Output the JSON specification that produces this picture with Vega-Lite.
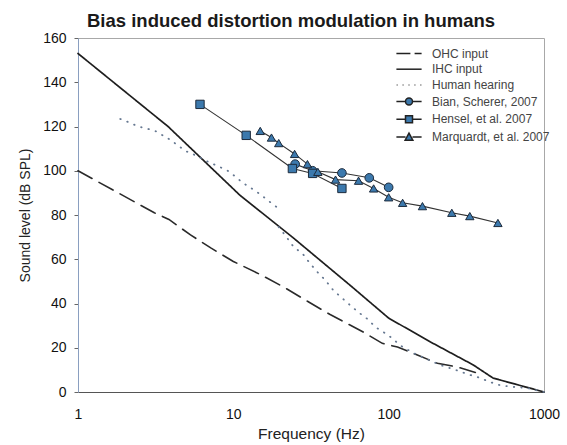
{
  "$schema": "https://vega.github.io/schema/vega-lite/v6.json",
  "width": 466,
  "height": 354,
  "autosize": {"type": "none"},
  "padding": {"left": 78, "top": 38, "right": 23, "bottom": 53},
  "background": "white",
  "config": {
    "font": "Liberation Sans",
    "view": {"stroke": "#a8a8a8", "strokeWidth": 1},
    "axis": {"grid": false, "labelFont": "Liberation Sans", "titleFont": "Liberation Sans", "labelColor": "#111", "titleColor": "#222", "titleFontWeight": "normal"}
  },
  "title": {
    "text": "Bias induced distortion modulation in humans",
    "fontSize": 18.5,
    "fontWeight": "bold",
    "color": "#1a1a1a",
    "font": "Liberation Sans",
    "anchor": "middle",
    "dx": -20,
    "offset": 1
  },
  "datasets": {
    "curves": [
      {"series": "OHC input", "part": "a", "f": 1, "db": 100},
      {"series": "OHC input", "part": "a", "f": 3.1, "db": 81},
      {"series": "OHC input", "part": "a", "f": 3.85, "db": 78},
      {"series": "OHC input", "part": "a", "f": 5.3, "db": 71},
      {"series": "OHC input", "part": "a", "f": 7.2, "db": 65},
      {"series": "OHC input", "part": "a", "f": 10, "db": 59},
      {"series": "OHC input", "part": "a", "f": 15, "db": 53},
      {"series": "OHC input", "part": "a", "f": 21, "db": 47.5},
      {"series": "OHC input", "part": "a", "f": 30, "db": 41},
      {"series": "OHC input", "part": "a", "f": 42, "db": 35},
      {"series": "OHC input", "part": "a", "f": 69, "db": 27},
      {"series": "OHC input", "part": "a", "f": 91, "db": 22},
      {"series": "OHC input", "part": "a", "f": 114, "db": 20.3},
      {"series": "OHC input", "part": "a", "f": 153, "db": 16.7},
      {"series": "OHC input", "part": "a", "f": 206, "db": 13},
      {"series": "OHC input", "part": "a", "f": 277, "db": 11.3},
      {"series": "OHC input", "part": "a", "f": 372, "db": 8.6},
      {"series": "IHC input", "part": "a", "f": 1, "db": 153},
      {"series": "IHC input", "part": "a", "f": 3.8, "db": 120},
      {"series": "IHC input", "part": "a", "f": 11, "db": 89},
      {"series": "IHC input", "part": "a", "f": 24, "db": 70},
      {"series": "IHC input", "part": "a", "f": 57, "db": 48},
      {"series": "IHC input", "part": "a", "f": 100, "db": 33.4},
      {"series": "IHC input", "part": "a", "f": 186, "db": 22.6},
      {"series": "IHC input", "part": "a", "f": 351, "db": 12.2},
      {"series": "IHC input", "part": "a", "f": 470, "db": 6.3},
      {"series": "IHC input", "part": "a", "f": 1000, "db": 0},
      {"series": "Human hearing", "part": "a", "f": 1.87, "db": 123.4},
      {"series": "Human hearing", "part": "a", "f": 2.16, "db": 121.7},
      {"series": "Human hearing", "part": "a", "f": 2.44, "db": 120},
      {"series": "Human hearing", "part": "a", "f": 2.79, "db": 119},
      {"series": "Human hearing", "part": "a", "f": 3.14, "db": 118},
      {"series": "Human hearing", "part": "a", "f": 3.93, "db": 114},
      {"series": "Human hearing", "part": "a", "f": 4.36, "db": 111.6},
      {"series": "Human hearing", "part": "a", "f": 4.9, "db": 109},
      {"series": "Human hearing", "part": "a", "f": 5.5, "db": 107.5},
      {"series": "Human hearing", "part": "a", "f": 6.9, "db": 104},
      {"series": "Human hearing", "part": "a", "f": 8, "db": 102},
      {"series": "Human hearing", "part": "a", "f": 9.2, "db": 100},
      {"series": "Human hearing", "part": "a", "f": 10.2, "db": 97.6},
      {"series": "Human hearing", "part": "a", "f": 11.5, "db": 94.5},
      {"series": "Human hearing", "part": "a", "f": 13.1, "db": 92},
      {"series": "Human hearing", "part": "a", "f": 14.8, "db": 89.5},
      {"series": "Human hearing", "part": "a", "f": 16.9, "db": 86.3},
      {"series": "Human hearing", "part": "a", "f": 19, "db": 83.6},
      {"series": "Human hearing", "part": "b", "f": 19.6, "db": 74.6},
      {"series": "Human hearing", "part": "b", "f": 22, "db": 70},
      {"series": "Human hearing", "part": "b", "f": 24.5, "db": 65.5},
      {"series": "Human hearing", "part": "b", "f": 28, "db": 62.4},
      {"series": "Human hearing", "part": "b", "f": 31, "db": 58.3},
      {"series": "Human hearing", "part": "b", "f": 35, "db": 54},
      {"series": "Human hearing", "part": "b", "f": 39, "db": 50.6},
      {"series": "Human hearing", "part": "b", "f": 44, "db": 46},
      {"series": "Human hearing", "part": "b", "f": 50, "db": 42.5},
      {"series": "Human hearing", "part": "b", "f": 57, "db": 39},
      {"series": "Human hearing", "part": "b", "f": 64, "db": 36},
      {"series": "Human hearing", "part": "b", "f": 73, "db": 33},
      {"series": "Human hearing", "part": "b", "f": 82, "db": 29.4},
      {"series": "Human hearing", "part": "b", "f": 93, "db": 27},
      {"series": "Human hearing", "part": "b", "f": 105, "db": 24.4},
      {"series": "Human hearing", "part": "b", "f": 119, "db": 21},
      {"series": "Human hearing", "part": "b", "f": 150, "db": 17},
      {"series": "Human hearing", "part": "b", "f": 215, "db": 12.2},
      {"series": "Human hearing", "part": "b", "f": 269, "db": 10},
      {"series": "Human hearing", "part": "b", "f": 323, "db": 8},
      {"series": "Human hearing", "part": "b", "f": 372, "db": 6.8},
      {"series": "Human hearing", "part": "b", "f": 450, "db": 4.5},
      {"series": "Human hearing", "part": "b", "f": 525, "db": 3},
      {"series": "Human hearing", "part": "b", "f": 630, "db": 2.3},
      {"series": "Human hearing", "part": "b", "f": 780, "db": 1.8},
      {"series": "Human hearing", "part": "b", "f": 1000, "db": 0}
    ],
    "studies": [
      {"series": "Bian, Scherer, 2007", "f": 25, "db": 103},
      {"series": "Bian, Scherer, 2007", "f": 32.4, "db": 100},
      {"series": "Bian, Scherer, 2007", "f": 50, "db": 99},
      {"series": "Bian, Scherer, 2007", "f": 75, "db": 96.8},
      {"series": "Bian, Scherer, 2007", "f": 100, "db": 92.5},
      {"series": "Hensel, et al. 2007", "f": 6.1, "db": 130},
      {"series": "Hensel, et al. 2007", "f": 12.1, "db": 116},
      {"series": "Hensel, et al. 2007", "f": 24, "db": 101},
      {"series": "Hensel, et al. 2007", "f": 32.4, "db": 98.8},
      {"series": "Hensel, et al. 2007", "f": 50, "db": 92},
      {"series": "Marquardt, et al. 2007", "f": 14.9, "db": 118},
      {"series": "Marquardt, et al. 2007", "f": 17.6, "db": 115},
      {"series": "Marquardt, et al. 2007", "f": 19.6, "db": 112.5},
      {"series": "Marquardt, et al. 2007", "f": 24.8, "db": 107.6},
      {"series": "Marquardt, et al. 2007", "f": 30, "db": 103},
      {"series": "Marquardt, et al. 2007", "f": 35, "db": 99.5},
      {"series": "Marquardt, et al. 2007", "f": 45.5, "db": 96},
      {"series": "Marquardt, et al. 2007", "f": 64, "db": 95.5},
      {"series": "Marquardt, et al. 2007", "f": 80, "db": 92},
      {"series": "Marquardt, et al. 2007", "f": 100, "db": 88},
      {"series": "Marquardt, et al. 2007", "f": 123, "db": 85.5},
      {"series": "Marquardt, et al. 2007", "f": 165, "db": 84},
      {"series": "Marquardt, et al. 2007", "f": 255, "db": 81},
      {"series": "Marquardt, et al. 2007", "f": 333, "db": 79.5},
      {"series": "Marquardt, et al. 2007", "f": 505, "db": 76.4}
    ]
  },
  "encoding": {
    "x": {
      "field": "f",
      "type": "quantitative",
      "scale": {"type": "log", "domain": [1, 1000], "nice": false},
      "axis": {"values": [1, 10, 100, 1000], "format": "d", "title": "Frequency (Hz)", "titleFontSize": 15.5, "labelFontSize": 14, "ticks": false, "labelPadding": 15, "titlePadding": 5, "domainColor": "#555", "labelFlush": false}
    },
    "y": {
      "field": "db",
      "type": "quantitative",
      "scale": {"domain": [0, 160], "nice": false},
      "axis": {"values": [0, 20, 40, 60, 80, 100, 120, 140, 160], "title": "Sound level (dB SPL)", "titleFontSize": 14, "labelFontSize": 14, "tickSize": 4, "tickColor": "#666", "labelPadding": 8, "titlePadding": 10, "domainColor": "#8a9fc0"}
    }
  },
  "layer": [
    {
      "data": {"name": "curves"},
      "mark": {"type": "line", "strokeCap": "round"},
      "encoding": {
        "detail": {"field": "part"},
        "strokeDash": {
          "field": "series",
          "scale": {"domain": ["OHC input", "IHC input", "Human hearing"], "range": [[16, 8], [1, 0], [0.5, 7]]},
          "legend": null
        },
        "strokeWidth": {
          "field": "series",
          "scale": {"domain": ["OHC input", "IHC input", "Human hearing"], "range": [1.6, 1.8, 2.8]},
          "legend": null
        },
        "color": {
          "field": "series",
          "scale": {"domain": ["OHC input", "IHC input", "Human hearing"], "range": ["#2a2a2a", "#1e1e1e", "#667891"]},
          "legend": null
        }
      }
    },
    {
      "data": {"name": "studies"},
      "mark": {"type": "line", "color": "#333", "strokeWidth": 1.1},
      "encoding": {"detail": {"field": "series"}}
    },
    {
      "data": {"name": "studies"},
      "transform": [{"filter": "datum.series === 'Bian, Scherer, 2007'"}],
      "mark": {"type": "point", "shape": "circle", "filled": true, "fill": "#3c79ad", "stroke": "#1d2b3c", "strokeWidth": 1, "opacity": 1, "size": 75}
    },
    {
      "data": {"name": "studies"},
      "transform": [{"filter": "datum.series === 'Hensel, et al. 2007'"}],
      "mark": {"type": "point", "shape": "square", "filled": true, "fill": "#3c79ad", "stroke": "#1d2b3c", "strokeWidth": 1, "opacity": 1, "size": 70}
    },
    {
      "data": {"name": "studies"},
      "transform": [{"filter": "datum.series === 'Marquardt, et al. 2007'"}],
      "mark": {"type": "point", "shape": "triangle-up", "filled": true, "fill": "#3c79ad", "stroke": "#1d2b3c", "strokeWidth": 1, "opacity": 1, "size": 70}
    },
    {
      "data": {"name": "studies"},
      "mark": {"type": "point", "filled": true, "fill": "#3c79ad", "stroke": "#222", "strokeWidth": 1.1, "opacity": 0},
      "encoding": {
        "shape": {
          "field": "series",
          "scale": {
            "domain": ["OHC input", "IHC input", "Human hearing", "Bian, Scherer, 2007", "Hensel, et al. 2007", "Marquardt, et al. 2007"],
            "range": [
              "M-3.6,0H0.4M1.6,0H3.6",
              "M-3.6,0H3.6",
              "M-3.5,0H-3.3M-1.8,0H-1.6M-0.1,0H0.1M1.6,0H1.8M3.3,0H3.5",
              "M-3.6,0H-1M1,0H3.6M1,0A1,1,0,1,1,-1,0A1,1,0,1,1,1,0Z",
              "M-3.6,0H-1M1,0H3.6M-1,-1H1V1H-1Z",
              "M-3.6,0H-1M1,0H3.6M0,-1.1L1.1,0.9H-1.1Z"
            ]
          },
          "legend": {
            "title": null,
            "orient": "none",
            "legendX": 325,
            "legendY": 9.5,
            "symbolSize": 49,
            "symbolOpacity": 1,
            "labelFontSize": 12,
            "labelColor": "#444",
            "labelFont": "Liberation Sans",
            "labelOffset": 17,
            "rowPadding": 3.7,
            "padding": 0,
            "encode": {
              "symbols": {
                "fill": {"value": "#3c79ad"},
                "fillOpacity": {"value": 1},
                "stroke": {"value": {"expr": "datum.value === 'Human hearing' ? '#5a6a80' : '#222'"}},
                "strokeWidth": {"value": {"expr": "datum.value === 'Human hearing' ? 2.4 : 1.1"}},
                "strokeCap": {"value": "round"},
                "opacity": {"value": 1}
              }
            }
          }
        }
      }
    }
  ]
}
